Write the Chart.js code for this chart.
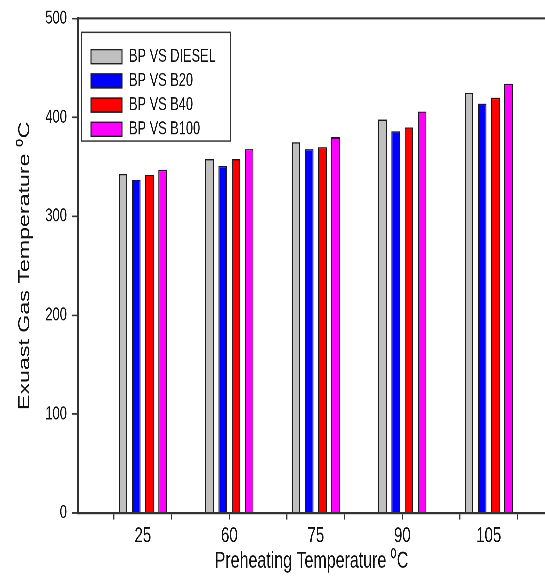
<!DOCTYPE html>
<html>
<head>
<meta charset="utf-8">
<script src="https://cdn.jsdelivr.net/npm/chart.js@4/dist/chart.umd.min.js"></script>
<style>
  html, body { margin: 0; padding: 0; background: #fff; }
  #wrap { width: 545px; height: 577px; overflow: hidden; position: relative; }
  /* the plot is laid out at a shorter height and stretched tall, like the original figure */
  #c { position: absolute; left: 0; top: 0; width: 545px; height: 398px;
       transform: scaleY(1.4497); transform-origin: 0 0; }
</style>
</head>
<body>
<div id="wrap"><canvas id="c" width="545" height="398"></canvas></div>
<script>
// Preheating temperatures (°C) and exhaust gas temperatures (°C) per fuel
const categories = ['25', '60', '75', '90', '105'];
const seriesNames = ['BP VS DIESEL', 'BP VS B20', 'BP VS B40', 'BP VS B100'];
const diesel = [343, 358, 375, 398, 425];
const b20    = [337, 351, 368, 386, 414];
const b40    = [342, 358, 370, 390, 420];
const b100   = [347, 368, 380, 406, 434];
const yTicks = [0, 100, 200, 300, 400, 500];

const seriesValues = [diesel, b20, b40, b100];
const seriesColors = ['#c0c0c0', '#0000ff', '#ff0000', '#ff00ff'];

const FONT = "'Liberation Sans', Arial, Helvetica, sans-serif";
const X_MIN = 0.25, X_MAX = 5.65;
const INK = '#333333';

const datasets = seriesValues.map((vals, i) => ({
  label: seriesNames[i],
  data: vals.map((v, j) => ({ x: j + 1, y: v })),
  backgroundColor: seriesColors[i],
  borderColor: '#1a1a1a',
  borderWidth: 1,
  borderSkipped: 'bottom',
  categoryPercentage: 0.611,
  barPercentage: 0.65,
  xAxisID: 'x',
  yAxisID: 'y'
}));

// Legend drawn inside the plot frame, upper left
const innerLegend = {
  id: 'innerLegend',
  afterDraw(chart) {
    const ctx = chart.ctx;
    const a = chart.chartArea;
    const x0 = a.left + 3, y0 = a.top + 9, w = 149, h = 75;
    ctx.save();
    ctx.fillStyle = '#fff';
    ctx.fillRect(x0, y0, w, h);
    ctx.strokeStyle = INK;
    ctx.lineWidth = 1;
    ctx.strokeRect(x0 + 0.5, y0 + 0.5, w, h);
    ctx.font = '12.8px ' + FONT;
    ctx.textBaseline = 'middle';
    ctx.textAlign = 'left';
    chart.data.datasets.forEach((ds, i) => {
      const cy = y0 + 17.3 + i * 16.7;
      ctx.fillStyle = ds.backgroundColor;
      ctx.fillRect(x0 + 10, cy - 4.85, 31, 9.7);
      ctx.strokeStyle = '#1a1a1a';
      ctx.lineWidth = 1;
      ctx.strokeRect(x0 + 10, cy - 4.85, 31, 9.7);
      ctx.fillStyle = '#111';
      ctx.fillText(ds.label, x0 + 48, cy);
    });
    ctx.restore();
  }
};

new Chart(document.getElementById('c'), {
  type: 'bar',
  data: { datasets },
  plugins: [innerLegend],
  options: {
    responsive: false,
    devicePixelRatio: 3,
    animation: false,
    layout: { padding: { top: 10.34, left: 0, right: 0, bottom: 0 } },
    plugins: { legend: { display: false }, tooltip: { enabled: false } },
    scales: {
      // category labels under each group
      x: {
        type: 'linear', position: 'bottom', weight: 1,
        min: X_MIN, max: X_MAX, offset: false,
        afterBuildTicks: s => { s.ticks = categories.map((c, i) => ({ value: i + 1 })); },
        ticks: {
          callback: (v, i) => categories[i],
          font: { family: FONT, size: 15 }, color: '#111',
          padding: 2.5, maxRotation: 0, autoSkip: false
        },
        grid: { display: false, drawTicks: false, offset: false },
        border: { display: false },
        title: {
          display: true, text: 'Preheating Temperature \u2070C',
          font: { family: FONT, size: 16 }, color: '#111',
          padding: { top: 0, bottom: 1 }
        },
        afterFit: s => { s.height = 39.6; }
      },
      // axis line with its tick marks
      xm: {
        type: 'linear', position: 'bottom', weight: 0,
        min: X_MIN, max: X_MAX, offset: false,
        afterBuildTicks: s => {
          const t = [];
          for (let k = 1; k * 2 / 3 < X_MAX; k++) t.push({ value: k * 2 / 3 });
          s.ticks = t;
        },
        ticks: { display: false },
        grid: { drawOnChartArea: false, drawTicks: true, tickLength: 4.5, color: INK, lineWidth: 1.1, offset: false },
        border: { display: true, color: INK, width: 1.4 }
      },
      // frame line along the top
      xt: {
        type: 'linear', position: 'top',
        min: X_MIN, max: X_MAX, offset: false,
        ticks: { display: false },
        grid: { display: false, drawTicks: false, offset: false },
        border: { display: true, color: INK, width: 1.4 }
      },
      y: {
        type: 'linear', position: 'left',
        min: 0, max: 500,
        afterBuildTicks: s => { s.ticks = yTicks.map(v => ({ value: v })); },
        ticks: { font: { family: FONT, size: 13 }, color: '#111', padding: 5 },
        grid: { drawOnChartArea: false, drawTicks: true, tickLength: 6, color: INK, lineWidth: 1.1 },
        border: { display: true, color: INK, width: 2 },
        title: {
          display: true, text: 'Exuast Gas Temperature \u2070C',
          font: { family: FONT, size: 16 }, color: '#111',
          padding: { top: 15.4, bottom: 0 }
        },
        afterFit: s => { s.width = 78; }
      }
    }
  }
});
</script>
</body>
</html>
